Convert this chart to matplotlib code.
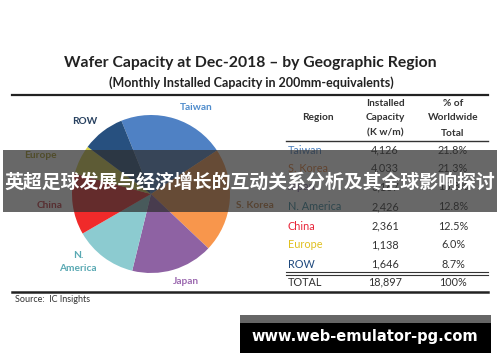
import matplotlib
matplotlib.use("Agg")
import matplotlib.pyplot as plt
from matplotlib.patches import Rectangle

# Data (Japan row is hidden by the banner; derived from total)
regions    = ["Taiwan", "S. Korea", "Japan", "N. America", "China", "Europe", "ROW"]
capacity   = [4126, 4033, 3167, 2426, 2361, 1138, 1646]
share_txt  = ["21.8%", "21.3%", "16.8%", "12.8%", "12.5%", "6.0%", "8.7%"]
cap_txt    = ["4,126", "4,033", "3,167", "2,426", "2,361", "1,138", "1,646"]
total_txt  = ["TOTAL", "18,897", "100%"]

pie_cols   = ["#4f81c4", "#f8964c", "#8e62a3", "#8ccbd0", "#f02a2a", "#d6d04a", "#27507f"]
lbl_cols   = ["#4f8ccc", "#c07a3c", "#9c6ab0", "#5aa9b3", "#c0303a", "#a89a20", "#27405f"]
tbl_cols   = ["#4f81bd", "#e47a30", "#8064a2", "#31859c", "#e8263a", "#e0c020", "#1f497d"]

# label positions (pixels)
lbl_pos = {"Taiwan": (196, 108), "S. Korea": (255, 206), "Japan": (186, 281),
           "N. America": (78, 262), "China": (50, 206), "Europe": (40, 155), "ROW": (85, 121)}

FONT = "Lato"

fig = plt.figure(figsize=(5.0, 3.62), dpi=100)
fig.patch.set_facecolor("white")

# pie axes
cx, cy, r = 151, 194, 79
pax = fig.add_axes([(cx - r) / 500, (362 - cy - r) / 362, 2 * r / 500, 2 * r / 362])
pax.pie(capacity, colors=pie_cols, startangle=112, counterclock=False,
        wedgeprops=dict(linewidth=0))
pax.set_xlim(-1, 1); pax.set_ylim(-1, 1)
pax.set_aspect("auto")
pax.axis("off")

# overlay axes in pixel coords
ax = fig.add_axes([0, 0, 1, 1], zorder=5)
ax.set_xlim(0, 500); ax.set_ylim(362, 0)
ax.axis("off")
ax.patch.set_alpha(0)

ax.text(250, 63, "Wafer Capacity at Dec-2018 \u2013 by Geographic Region", ha="center", va="center",
        fontsize=11.3, fontweight="bold", family=FONT, color="#222222")
ax.text(251, 83, "(Monthly Installed Capacity in 200mm-equivalents)", ha="center", va="center",
        fontsize=9, fontweight="bold", family=FONT, color="#222222")
ax.plot([12, 488], [95, 95], color="#222222", lw=1.6)
ax.plot([12, 488], [292, 292], color="#222222", lw=1.8)
ax.text(15, 300, "Source:  IC Insights", ha="left", va="center", fontsize=6.5, family=FONT, color="#333333")

for name, col in zip(regions, lbl_cols):
    x, y = lbl_pos[name]
    txt = "N.\nAmerica" if name == "N. America" else name
    ax.text(x, y, txt, ha="center", va="center", fontsize=7.3, fontweight="bold",
            family=FONT, color=col, linespacing=1.5)

# table
c1, c2, c3 = 318, 385, 453
for x, lines in [(c1, ["", "Region", ""]), (c2, ["Installed", "Capacity", "(K w/m)"]),
                 (c3, ["% of", "Worldwide", "Total"])]:
    for y, t in zip([103, 118, 133], lines):
        if t:
            ax.text(x, y, t, ha="center", va="center", fontsize=7.3, fontweight="bold",
                    family=FONT, color="#333333")
ax.plot([286, 488], [141, 141], color="#333333", lw=1.0)

row_y = [150, 168, 187, 207, 226, 245, 264]
for name, c, s, col, y in zip(regions, cap_txt, share_txt, tbl_cols, row_y):
    ax.text(288, y, name, ha="left", va="center", fontsize=7.8, family=FONT, color=col)
    ax.text(c2, y, c, ha="center", va="center", fontsize=7.8, family=FONT, color="#333333")
    ax.text(c3, y, s, ha="center", va="center", fontsize=7.8, family=FONT, color="#333333")
ax.plot([286, 488], [272, 272], color="#333333", lw=0.8)
ax.plot([286, 488], [274.5, 274.5], color="#333333", lw=0.8)
ax.text(288, 282, total_txt[0], ha="left", va="center", fontsize=7.8, family=FONT, color="#333333")
ax.text(c2, 282, total_txt[1], ha="center", va="center", fontsize=7.8, family=FONT, color="#333333")
ax.text(c3, 282, total_txt[2], ha="center", va="center", fontsize=7.8, family=FONT, color="#333333")

# banner overlay
ax.add_patch(Rectangle((3, 150), 494, 62, facecolor="#2e2e2e", alpha=0.72, lw=0, zorder=6))
ax.text(250, 182, "英超足球发展与经济增长的互动关系分析及其全球影响探讨", ha="center", va="center",
        fontsize=13.6, fontweight="bold", family=["Noto Sans CJK SC", "DejaVu Sans"],
        color="white", zorder=7)

# bottom watermark
ax.add_patch(Rectangle((240, 315), 251, 8, facecolor="#666666", lw=0, zorder=6))
ax.add_patch(Rectangle((240, 323), 251, 30, facecolor="black", lw=0, zorder=6))
ax.text(365, 337, "www.web-emulator-pg.com", ha="center", va="center", fontsize=10.5,
        fontweight="bold", family="DejaVu Sans", color="white", zorder=7)

fig.savefig("out.png", dpi=100)
